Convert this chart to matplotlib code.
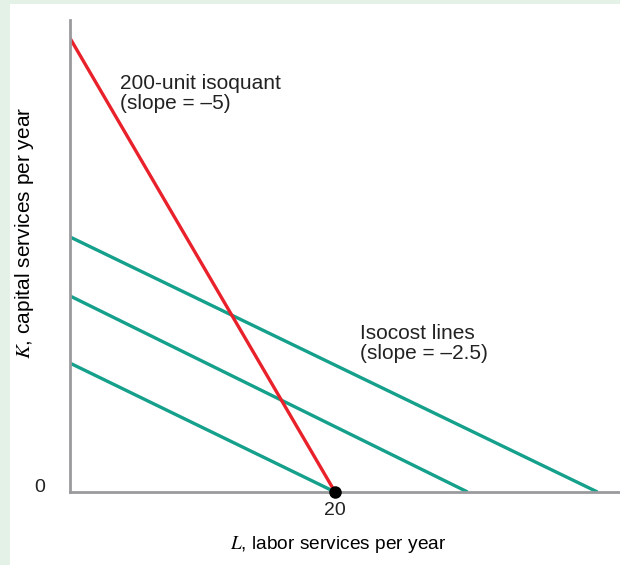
import matplotlib.pyplot as plt

plt.rcParams['font.family'] = ['Liberation Sans', 'DejaVu Sans']
plt.rcParams['mathtext.fontset'] = 'stix'

# isoquant (L, K endpoints)
iso_L = [0, 20]
iso_K = [100, 0]

# isocost lines: K intercept at L=0 and L intercept at K=0
cost_K0 = [28.4, 43.2, 56.2]
cost_L0 = [20, 30, 39.8]

xticks = [20]
yticks = [0]

red = '#e8212b'
teal = '#14a08b'
grey = '#9a9a9e'

fig = plt.figure(figsize=(6.2, 5.65), dpi=100)
fig.patch.set_facecolor('#e3f1e7')
# white panel
fig.patches.append(plt.Rectangle((10 / 620, 0), 1, 1 - 4 / 565,
                                 transform=fig.transFigure,
                                 facecolor='white', edgecolor='none', zorder=-5))

ax = fig.add_axes([70 / 620, 73 / 565, 550 / 620, 472 / 565])
ax.set_facecolor('none')
ax.set_xlim(0, 41.5)
ax.set_ylim(0, 104)

for s in ['top', 'right']:
    ax.spines[s].set_visible(False)
for s in ['left', 'bottom']:
    ax.spines[s].set_color(grey)
    ax.spines[s].set_linewidth(2)

for k0, l0 in zip(cost_K0, cost_L0):
    ax.plot([0, l0], [k0, 0], color=teal, lw=2.4, solid_capstyle='butt')
ax.plot(iso_L, iso_K, color=red, lw=2.4, solid_capstyle='butt')
ax.plot([iso_L[1]], [iso_K[1]], 'o', color='black', ms=8, clip_on=False, zorder=5)

ax.set_xticks(xticks)
ax.set_yticks(yticks)
ax.tick_params(length=0, labelsize=14, colors='#222222')
ax.tick_params(axis='x', pad=7)
ax.tick_params(axis='y', pad=18)
for lab in ax.get_yticklabels():
    lab.set_va('baseline')

ax.set_xlabel(r'$L$, labor services per year', fontsize=13.8)
ax.set_ylabel(r'$K$, capital services per year', fontsize=15)
ax.xaxis.set_label_coords(0.487, -0.088)
ax.yaxis.set_label_coords(-0.062, 0.55)

# va='baseline' on multi-line text anchors the last line
ax.text(3.8, 84.3, '200-unit isoquant\n(slope = \u20135)', fontsize=15,
        va='baseline', ha='left', linespacing=1.1, color='#222222')
ax.text(21.9, 29.3, 'Isocost lines\n(slope = \u20132.5)', fontsize=15,
        va='baseline', ha='left', linespacing=1.1, color='#222222')

fig.savefig('out.png', dpi=100, facecolor=fig.get_facecolor())
